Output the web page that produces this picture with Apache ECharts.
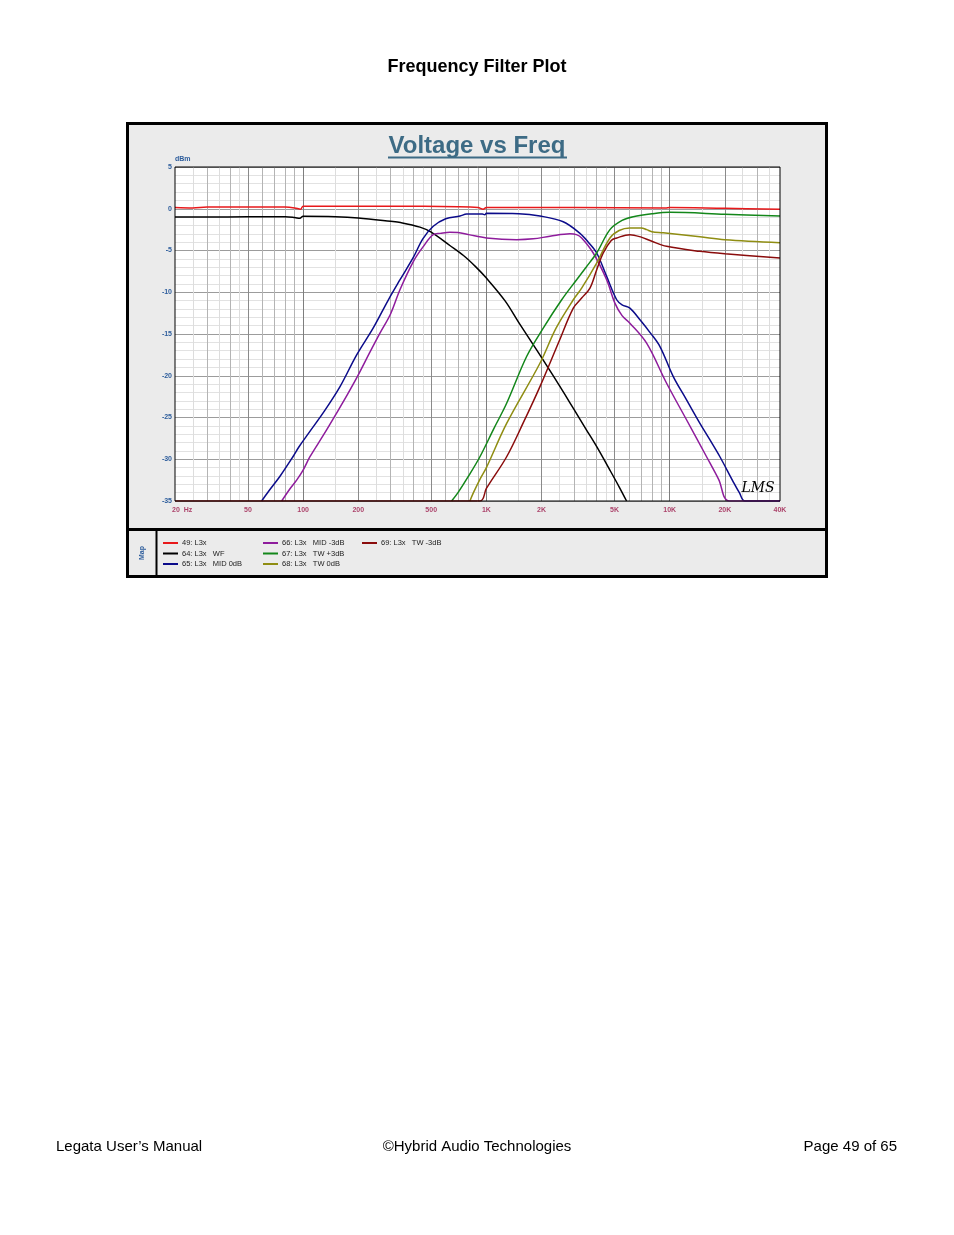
<!DOCTYPE html>
<html><head><meta charset="utf-8">
<script src="https://cdn.jsdelivr.net/npm/echarts@6/dist/echarts.min.js"></script>
<style>html,body{margin:0;padding:0;background:#fff}#c{width:954px;height:1235px}</style>
</head><body><div id="c"></div>
<script>
// ---- tick labels ----
const xTickValues = [20, 50, 100, 200, 500, 1000, 2000, 5000, 10000, 20000, 40000];
const xTickLabels = ['20  Hz', '50', '100', '200', '500', '1K', '2K', '5K', '10K', '20K', '40K'];
const yMin = -35, yMax = 5, yStep = 5;

// ---- series names / colours ----
const seriesNames = ['49: L3x', '64: L3x   WF', '65: L3x   MID 0dB', '66: L3x   MID -3dB', '67: L3x   TW +3dB', '68: L3x   TW 0dB', '69: L3x   TW -3dB'];
const seriesColors = ['#e8191b', '#000000', '#0b0b8a', '#8e1c9c', '#13871a', '#8f8d12', '#8a0c0c'];

// ---- 49: L3x ----
const f49 = [20, 25, 30, 50, 80, 90, 97, 100, 300, 700, 900, 960, 1000, 3000, 9500, 10000, 20000, 40000];
const db49 = [0.15, 0.1, 0.2, 0.2, 0.2, 0.1, -0.05, 0.3, 0.3, 0.25, 0.15, -0.05, 0.15, 0.15, 0.1, 0.15, 0.05, -0.05];
// ---- 64: WF ----
const f64 = [20, 30, 50, 80, 90, 96, 100, 150, 200, 300, 340, 434, 500, 632, 750, 870, 1000, 1262, 1500, 1880, 2300, 2690, 3000, 3520, 4000, 4720, 5300, 5820];
const db64 = [-1.0, -1.0, -0.95, -0.95, -1.05, -1.15, -0.9, -0.95, -1.1, -1.5, -1.65, -2.2, -2.8, -4.4, -5.6, -6.9, -8.3, -11.0, -13.6, -16.9, -19.9, -22.3, -24.0, -26.5, -28.5, -31.3, -33.3, -35];
// ---- 65: MID 0dB ----
const f65 = [59.4, 65, 75, 88, 95, 107, 130, 159, 196, 241, 292, 338, 400, 450, 513, 600, 718, 780, 950, 980, 1000, 1500, 1960, 2625, 3240, 3600, 4000, 4530, 5140, 5500, 6068, 6888, 7800, 8853, 10466, 12300, 14627, 16500, 18800, 22228, 24000, 25760, 40000];
const db65 = [-35, -33.8, -32, -29.7, -28.5, -26.9, -24.3, -21.3, -17.5, -14.3, -10.9, -8.5, -5.8, -3.6, -2.1, -1.2, -0.87, -0.63, -0.63, -0.72, -0.55, -0.6, -0.87, -1.55, -2.94, -4.0, -5.3, -8.1, -10.9, -11.5, -11.9, -13.3, -14.8, -16.5, -20.1, -22.8, -25.7, -27.6, -29.7, -32.7, -34, -35, -35];
// ---- 66: MID -3dB ----
const f66 = [76.4, 85, 92.2, 100, 109, 130, 152, 175, 200, 230, 262.6, 300, 337.6, 400, 450, 513, 560, 632, 700, 800, 1000, 1462, 1800, 2222, 2858, 3100, 3310, 3828, 4530, 5025, 5500, 6068, 7487, 9625, 12380, 15900, 18500, 21140, 40000];
const db66 = [-35, -33.5, -32.5, -31.3, -29.7, -27, -24.5, -22.2, -19.9, -17.3, -14.9, -12.6, -9.7, -6.3, -4.6, -3.1, -2.95, -2.8, -2.85, -3.1, -3.5, -3.7, -3.6, -3.3, -3.0, -3.1, -3.5, -5.3, -8.5, -11.3, -12.8, -13.7, -16.1, -20.9, -25.3, -29.7, -32.4, -35, -35];
// ---- 67: TW +3dB ----
const f67 = [646, 700, 800, 922, 1100, 1290, 1658, 2043, 2576, 3108, 3500, 3996, 4723, 5500, 6325, 8000, 10000, 20000, 40000];
const db67 = [-35, -34, -32, -29.7, -26.3, -23.3, -17.7, -14.3, -10.9, -8.5, -7.0, -5.3, -2.5, -1.4, -0.95, -0.6, -0.43, -0.65, -0.87];
// ---- 68: TW 0dB ----
const f68 = [813, 850, 922, 1000, 1290, 1960, 2400, 2980, 3310, 3996, 4723, 5300, 6068, 7000, 7487, 8000, 9225, 14627, 20000, 40000];
const db68 = [-35, -34, -32.4, -31, -25.7, -18.5, -14.3, -10.9, -9.5, -6.5, -3.5, -2.6, -2.3, -2.3, -2.5, -2.75, -2.87, -3.35, -3.7, -4.06];
// ---- 69: TW -3dB ----
const f69 = [20, 922, 1000, 1290, 1600, 1960, 2500, 2980, 3310, 3674, 4000, 4341, 4800, 5140, 6068, 7000, 8000, 9625, 14627, 20000, 40000];
const db69 = [-35, -35, -33.5, -29.7, -25.5, -21.3, -15.8, -11.9, -10.7, -9.5, -7.3, -5.3, -3.8, -3.5, -3.1, -3.4, -3.9, -4.5, -5.1, -5.4, -5.9];

const seriesF = [f49, f64, f65, f66, f67, f68, f69];
const seriesDb = [db49, db64, db65, db66, db67, db68, db69];

// vertical grid lines (log grid): multipliers per decade
const gridMajorMult = [2, 3, 4, 5, 6, 7, 8, 9];
const gridMinorMult = [1.5, 2.5, 3.5, 4.5];
const gridDecades = [10, 100, 1000, 10000];

const zip = (a, b) => a.map((v, i) => [v, b[i]]);

const vLines = [];
gridDecades.forEach(d => {
  if (d >= 20 && d <= 40000) vLines.push({ xAxis: d, lineStyle: { color: '#7e7e7e', width: 1 } });
  gridMinorMult.forEach(m => { const v = m * d; if (v > 20 && v < 40000) vLines.push({ xAxis: v, lineStyle: { color: '#dddddd', width: 1 } }); });
  gridMajorMult.forEach(m => {
    const v = m * d;
    if (v > 20 && v < 40000) {
      const lab = xTickValues.indexOf(v) >= 0;
      vLines.push({ xAxis: v, lineStyle: { color: lab ? '#8a8a8a' : '#b4b4b4', width: 1 } });
    }
  });
});

const curveSeries = seriesNames.map((n, i) => ({
  name: n, type: 'line', data: zip(seriesF[i], seriesDb[i]), color: seriesColors[i],
  showSymbol: false, symbol: 'none', smooth: 0.35, clip: true, z: 10 + i,
  lineStyle: { width: 1.5, color: seriesColors[i] }, emphasis: { disabled: true }
}));

const tickSeries = {
  type: 'scatter', name: '_ticks', z: 1, symbolSize: 0.01, clip: false, silent: true,
  data: xTickValues.map((v, i) => ({
    value: [v, yMin],
    label: { show: true, position: 'bottom', distance: 6, formatter: xTickLabels[i], align: i === 0 ? 'left' : 'center',
      offset: i === 0 ? [-3, 0] : [0, 0] }
  })),
  label: { color: '#9b1648', fontSize: 7, fontWeight: 'bold', fontFamily: 'Liberation Sans, Arial, sans-serif' },
  markLine: { z: 1, silent: true, symbol: ['none', 'none'], label: { show: false }, lineStyle: { type: 'solid' }, data: vLines, animation: false }
};

const legendBase = {
  orient: 'vertical', itemWidth: 15, itemHeight: 2, itemGap: 0.5, icon: 'rect', selectedMode: false, padding: 0,
  textStyle: { fontSize: 7.5, lineHeight: 10, color: '#222', fontFamily: 'Liberation Sans, Arial, sans-serif', padding: [0, 0, 0, -1] }
};

const font = 'Liberation Sans, Arial, sans-serif';
const option = {
  animation: false,
  backgroundColor: '#ffffff',
  grid: { left: 175, top: 167, width: 605, height: 334, show: true, backgroundColor: '#ffffff', borderWidth: 0 },
  xAxis: { type: 'log', logBase: 10, min: 20, max: 40000, axisLine: { show: false }, axisTick: { show: false },
    axisLabel: { show: false }, splitLine: { show: false }, minorSplitLine: { show: false } },
  yAxis: { type: 'value', min: yMin, max: yMax, interval: yStep, axisLine: { show: false }, axisTick: { show: false },
    axisLabel: { color: '#2d5d9c', fontSize: 7, fontWeight: 'bold', margin: 3, fontFamily: font },
    splitLine: { lineStyle: { color: '#9c9c9c', width: 1 } },
    minorTick: { show: false, splitNumber: 5 },
    minorSplitLine: { show: true, lineStyle: { color: '#e2e2e2', width: 1 } } },
  legend: [
    Object.assign({ data: seriesNames.slice(0, 3), left: 163, top: 538 }, legendBase),
    Object.assign({ data: seriesNames.slice(3, 6), left: 263, top: 538 }, legendBase),
    Object.assign({ data: seriesNames.slice(6, 7), left: 362, top: 538 }, legendBase)
  ],
  graphic: [
    { type: 'rect', z: -10, shape: { x: 127.5, y: 123.5, width: 699, height: 453 }, style: { fill: '#ebebeb', stroke: '#000', lineWidth: 3 } },
    { type: 'line', z: 50, shape: { x1: 127, y1: 529.5, x2: 827, y2: 529.5 }, style: { stroke: '#000', lineWidth: 3 } },
    { type: 'line', z: 50, shape: { x1: 156.5, y1: 531, x2: 156.5, y2: 577 }, style: { stroke: '#000', lineWidth: 2 } },
    { type: 'rect', z: 50, shape: { x: 175, y: 167, width: 605, height: 334 }, style: { fill: 'none', stroke: '#000', lineWidth: 1 } },
    { type: 'text', z: 50, x: 477, y: 67, style: { text: 'Frequency Filter Plot', font: 'bold 18px ' + font, fill: '#000', align: 'center', verticalAlign: 'middle' } },
    { type: 'text', z: 50, x: 477, y: 146, style: { text: 'Voltage vs Freq', font: 'bold 24px ' + font, fill: '#3d6b85', align: 'center', verticalAlign: 'middle' } },
    { type: 'line', z: 50, shape: { x1: 388, y1: 157.5, x2: 567, y2: 157.5 }, style: { stroke: '#3d6b85', lineWidth: 2 } },
    { type: 'text', z: 50, x: 175, y: 159.5, style: { text: 'dBm', font: 'bold 7px ' + font, fill: '#2d5d9c', align: 'left', verticalAlign: 'middle' } },
    { type: 'text', z: 50, x: 142, y: 553, rotation: Math.PI / 2, style: { text: 'Map', font: 'bold 7px ' + font, fill: '#2d5d9c', align: 'center', verticalAlign: 'middle' } },
    { type: 'text', z: 50, x: 758, y: 488, style: { text: 'LMS', font: 'italic 14px DejaVu Serif, serif', fill: '#000', align: 'center', verticalAlign: 'middle' } },
    { type: 'text', z: 50, x: 56, y: 1147, style: { text: 'Legata User\u2019s Manual', font: '15px ' + font, fill: '#000', align: 'left', verticalAlign: 'middle' } },
    { type: 'text', z: 50, x: 477, y: 1147, style: { text: '\u00A9Hybrid Audio Technologies', font: '15px ' + font, fill: '#000', align: 'center', verticalAlign: 'middle' } },
    { type: 'text', z: 50, x: 897, y: 1147, style: { text: 'Page 49 of 65', font: '15px ' + font, fill: '#000', align: 'right', verticalAlign: 'middle' } }
  ],
  series: [tickSeries].concat(curveSeries)
};

const chart = echarts.init(document.getElementById('c'), null, { renderer: 'canvas' });
chart.setOption(option);
</script>
</body></html>
